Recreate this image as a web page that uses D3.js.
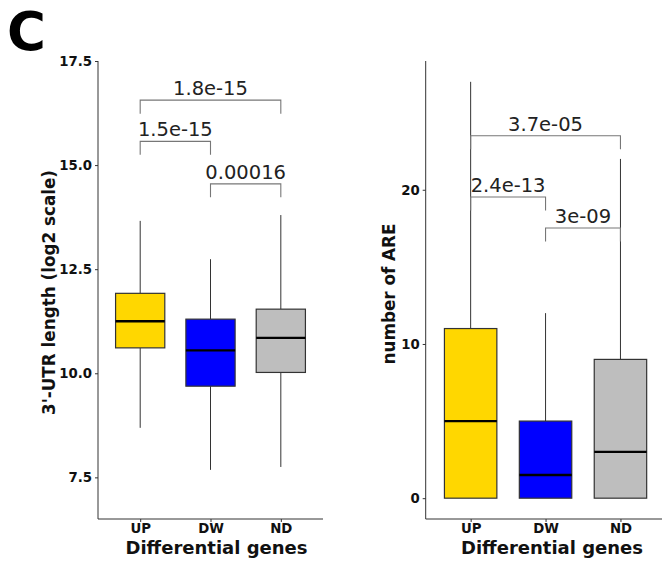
<!DOCTYPE html>
<html><head><meta charset="utf-8">
<script src="https://cdn.jsdelivr.net/npm/d3@7"></script>
<style>body{margin:0;background:#fff}svg{display:block;font-family:"DejaVu Sans",sans-serif}</style>
</head><body><svg id="c" width="662" height="561"></svg>
<script>
const categories = ["UP","DW","ND"];
const colors = ["#FFD700","#0000FF","#BEBEBE"];
// left panel: 3'-UTR length (log2)
const utrMin = [8.69, 7.68, 7.75];
const utrQ1 = [10.61, 9.69, 10.02];
const utrMed = [11.25, 10.55, 10.85];
const utrQ3 = [11.92, 11.30, 11.54];
const utrMax = [13.66, 12.74, 13.80];
const utrTicks = [7.5, 10.0, 12.5, 15.0, 17.5];
const utrPairs = [[0,2],[0,1],[1,2]];
const utrPvals = ["1.8e-15","1.5e-15","0.00016"];
const utrPy = [16.56, 15.57, 14.55];
// right panel: number of ARE
const areMin = [0, 0, 0];
const areQ1 = [0, 0, 0];
const areMed = [5, 1.5, 3];
const areQ3 = [11, 5, 9];
const areMax = [27, 12, 22];
const areTicks = [0, 10, 20];
const arePairs = [[0,2],[0,1],[1,2]];
const arePvals = ["3.7e-05","2.4e-13","3e-09"];
const arePy = [23.5, 19.53, 17.52];

const svg = d3.select("#c");
svg.append("text").attr("x",7).attr("y",50).attr("font-size",53).attr("font-weight","bold").text("C");

function panel(o){
  const g = svg.append("g");
  const x = d3.scaleLinear().domain([0.4,3.6]).range([o.x0,o.x1]);
  const y = d3.scaleLinear().domain(o.ydom).range([519,61]);
  const ya = d3.axisLeft(y).tickValues(o.ticks).tickSize(3).tickPadding(3).tickFormat(o.fmt);
  const yg = g.append("g").attr("transform",`translate(${o.x0},0)`).call(ya);
  yg.select(".domain").attr("d",`M0,61V519`).attr("stroke","#333");
  yg.selectAll(".tick line").attr("stroke","#333");
  yg.selectAll(".tick text").attr("font-size",13.3).attr("font-weight","bold").attr("fill","#111").attr("font-family","DejaVu Sans");
  const xa = d3.axisBottom(x).tickValues([1,2,3]).tickSize(3).tickPadding(2).tickFormat(d=>categories[d-1]);
  const xg = g.append("g").attr("transform","translate(0,519)").call(xa);
  xg.select(".domain").attr("d",`M${o.x0},0H${o.x1}`).attr("stroke","#333");
  xg.selectAll(".tick line").attr("stroke","#333");
  xg.selectAll(".tick text").attr("font-size",13.3).attr("font-weight","bold").attr("fill","#111").attr("font-family","DejaVu Sans");
  const bw = x(1.35)-x(1);
  categories.forEach((c,i)=>{
    const cx = x(i+1);
    g.append("line").attr("x1",cx).attr("x2",cx).attr("y1",y(o.max[i])).attr("y2",y(o.q3[i])).attr("stroke","#333");
    g.append("line").attr("x1",cx).attr("x2",cx).attr("y1",y(o.q1[i])).attr("y2",y(o.min[i])).attr("stroke","#333");
    g.append("rect").attr("x",cx-bw).attr("width",2*bw).attr("y",y(o.q3[i])).attr("height",y(o.q1[i])-y(o.q3[i]))
      .attr("fill",colors[i]).attr("stroke","#333").attr("stroke-width",1.2);
    g.append("line").attr("x1",cx-bw).attr("x2",cx+bw).attr("y1",y(o.med[i])).attr("y2",y(o.med[i])).attr("stroke","#000").attr("stroke-width",2.4);
  });
  o.pairs.forEach((p,k)=>{
    const xa_ = x(p[0]+1), xb = x(p[1]+1), yy = y(o.py[k]);
    g.append("path").attr("d",`M${xa_},${yy+13.5}V${yy}H${xb}V${yy+13.5}`).attr("fill","none").attr("stroke","#777").attr("stroke-width",1.1);
    g.append("text").attr("x",(xa_+xb)/2).attr("y",yy-5).attr("text-anchor","middle")
      .attr("font-size",19.5).attr("fill","#222").text(o.pv[k]);
  });
  g.append("text").attr("transform",`translate(${o.tx},${o.ty}) rotate(-90)`).attr("text-anchor","middle")
    .attr("font-size",16.8).attr("font-weight","bold").attr("fill","#111").text(o.title);
  g.append("text").attr("x",o.xtx).attr("y",554).attr("text-anchor","middle")
    .attr("font-size",18).attr("font-weight","bold").attr("fill","#111").text("Differential genes");
}
panel({x0:98,x1:323,ydom:[6.5,17.5],ticks:utrTicks,fmt:d3.format(".1f"),
  min:utrMin,q1:utrQ1,med:utrMed,q3:utrQ3,max:utrMax,pairs:utrPairs,pv:utrPvals,py:utrPy,
  title:"3'-UTR length (log2 scale)",tx:55,ty:292.5,xtx:216.5});
panel({x0:425.7,x1:665.4,ydom:[-1.35,28.35],ticks:areTicks,fmt:d3.format("d"),
  min:areMin,q1:areQ1,med:areMed,q3:areQ3,max:areMax,pairs:arePairs,pv:arePvals,py:arePy,
  title:"number of ARE",tx:395,ty:294,xtx:552});
</script></body></html>
